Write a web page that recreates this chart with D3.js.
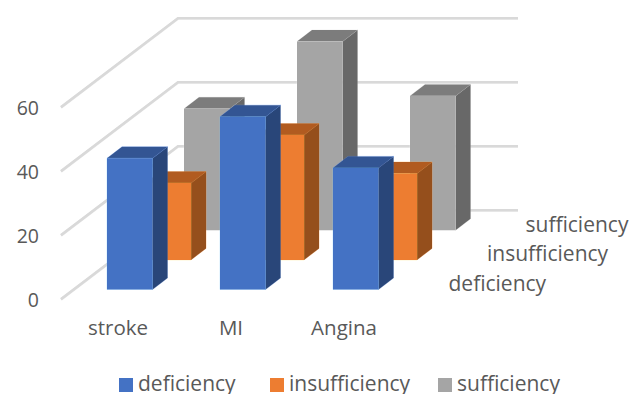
<!DOCTYPE html>
<html>
<head>
<meta charset="utf-8">
<script src="https://cdnjs.cloudflare.com/ajax/libs/d3/7.9.0/d3.min.js"></script>
<style>
html,body{margin:0;padding:0;background:#fff;overflow:hidden}
svg{display:block}
text{font-family:"Open Sans",sans-serif;fill:#595959}
</style>
</head>
<body>
<svg id="chart" width="630" height="394"></svg>
<script>
const categories = ["stroke", "MI", "Angina"];
const seriesNames = ["deficiency", "insufficiency", "sufficiency"];
const deficiency = [41, 54, 38];
const insufficiency = [24, 39, 27];
const sufficiency = [38, 59, 42];
const yTicks = [0, 20, 40, 60];

const seriesValues = { deficiency, insufficiency, sufficiency };
const faceColors = {
  deficiency: { front: "#4472c4", top: "#335593", side: "#294679" },
  insufficiency: { front: "#ed7d31", top: "#b15b20", side: "#954f1c" },
  sufficiency: { front: "#a5a5a5", top: "#7c7c7c", side: "#686868" }
};

const svg = d3.select("#chart");

const xCat = d3.scalePoint().domain(categories).range([107, 333]);
const yVal = d3.scaleLinear().domain([0, 60]).range([0, 192]);
const depth = d3.scalePoint().domain(seriesNames).range([0, 2]);
const depthDX = 38.5, depthDY = 29.6;
const barW = 45.5, barDX = 15, barDY = 11.5;
const baseY = 289.5;

const wallFront = 61, wallBack = 178, wallRight = 518;
const grid = svg.append("g");
const gridLine = d3.line();
yTicks.forEach(t => {
  const yFront = 299 - yVal(t);
  const yBack = 210 - yVal(t);
  [["#bdbdbd", 0.5, 2.6, 0.5], ["#d9d9d9", 0, 2.2, 1]].forEach(([col, off, w, op]) => {
    grid.append("path")
      .attr("d", gridLine([[wallFront, yFront + off], [wallBack, yBack + off], [wallRight, yBack + off]]))
      .attr("fill", "none").attr("stroke", col).attr("stroke-width", w).attr("opacity", op);
  });
});

svg.append("g").selectAll("text").data(yTicks).join("text")
  .attr("x", 39).attr("y", d => 299.5 - yVal(d))
  .attr("dy", "0.36em").attr("text-anchor", "end").attr("font-size", 19.5).text(d => d);

const bars = svg.append("g");
[...seriesNames].reverse().forEach(name => {
  const cols = faceColors[name];
  const dz = depth(name);
  categories.forEach((cat, i) => {
    const x0 = xCat(cat) + dz * depthDX;
    const y0 = baseY - dz * depthDY;
    const y1 = y0 - yVal(seriesValues[name][i]);
    const g = bars.append("g");
    const poly = (pts, fill) => g.append("polygon")
      .attr("points", pts.map(p => p.join(",")).join(" "))
      .attr("fill", fill)
      .attr("stroke", d3.color(fill).brighter(1.6)).attr("stroke-opacity", 0.35).attr("stroke-width", 1)
      .attr("stroke-linejoin", "round").attr("paint-order", "stroke");
    poly([[x0 + barW, y0], [x0 + barW + barDX, y0 - barDY], [x0 + barW + barDX, y1 - barDY], [x0 + barW, y1]], cols.side);
    poly([[x0, y1], [x0 + barW, y1], [x0 + barW + barDX, y1 - barDY], [x0 + barDX, y1 - barDY]], cols.top);
    poly([[x0, y0], [x0 + barW, y0], [x0 + barW, y1], [x0, y1]], cols.front);
  });
});

svg.append("g").selectAll("text").data(categories).join("text")
  .attr("x", d => xCat(d) + 11).attr("y", 335)
  .attr("text-anchor", "middle").attr("font-size", 20.5).text(d => d);

svg.append("g").selectAll("text").data(seriesNames).join("text")
  .attr("x", d => 448.5 + depth(d) * depthDX)
  .attr("y", d => 291 - depth(d) * depthDY)
  .attr("font-size", 21).text(d => d);

const legendSwatchX = d3.scaleOrdinal().domain(seriesNames).range([119, 270, 438]);
const legend = svg.append("g");
seriesNames.forEach(name => {
  const lx = legendSwatchX(name);
  legend.append("rect").attr("x", lx).attr("y", 378).attr("width", 14).attr("height", 14)
    .attr("fill", faceColors[name].front);
  legend.append("text").attr("x", lx + 19).attr("y", 391).attr("font-size", 21).text(name);
});
</script>
</body>
</html>
